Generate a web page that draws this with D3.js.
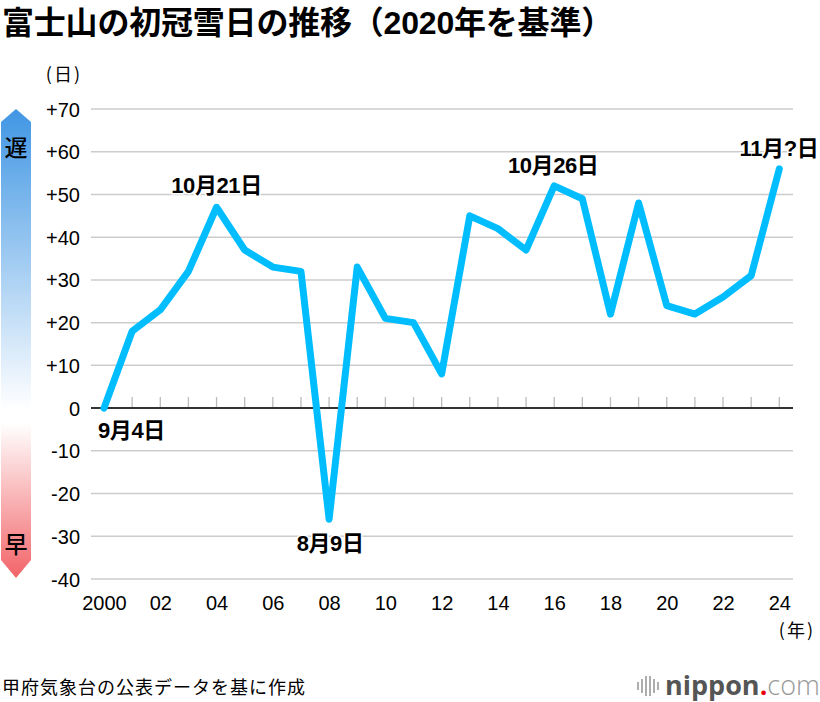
<!DOCTYPE html>
<html><head><meta charset="utf-8">
<script src="https://cdn.jsdelivr.net/npm/d3@7"></script>
<style>
body{margin:0;background:#fff;}
svg{display:block;}
</style></head>
<body>
<script>
const years = [2000,2001,2002,2003,2004,2005,2006,2007,2008,2009,2010,2011,2012,2013,2014,2015,2016,2017,2018,2019,2020,2021,2022,2023,2024];
const values = [0,18,23,32,47,37,33,32,-26,33,21,20,8,45,42,37,52,49,22,48,24,22,26,31,56];
const yTicks = [70,60,50,40,30,20,10,0,-10,-20,-30,-40];
const xTickYears = [2000,2002,2004,2006,2008,2010,2012,2014,2016,2018,2020,2022,2024];
const xTickLabels = ["2000","02","04","06","08","10","12","14","16","18","20","22","24"];
const annotations = [
  {year:2000, value:0, text:"9月4日", anchor:"start", dx:-6, dy:30},
  {year:2004, value:47, text:"10月21日", anchor:"middle", dx:0, dy:-14},
  {year:2008, value:-26, text:"8月9日", anchor:"middle", dx:1, dy:32},
  {year:2016, value:52, text:"10月26日", anchor:"middle", dx:-1, dy:-13},
  {year:2024, value:56, text:"11月?日", anchor:"end", dx:39, dy:-13}
];

const W=820,H=702;
const svg=d3.select("body").append("svg").attr("width",W).attr("height",H);
const x=d3.scaleLinear().domain([2000,2024]).range([104,779.3]);
const y=d3.scaleLinear().domain([-40,70]).range([579,109]);
const numFont='"Liberation Sans", Arial, "Noto Sans CJK JP", sans-serif';
const jpFont='"Noto Sans CJK JP", sans-serif';

// title
svg.append("text").attr("x",2).attr("y",34)
  .attr("font-family",'"Liberation Sans","Noto Sans CJK JP",sans-serif').attr("font-weight","bold")
  .attr("font-size",32).attr("fill","#000").attr("letter-spacing",-0.2)
  .text("富士山の初冠雪日の推移（2020年を基準）");

// gradient arrow
const defs=svg.append("defs");
const g=defs.append("linearGradient").attr("id","arr").attr("gradientUnits","userSpaceOnUse")
  .attr("x1",0).attr("x2",0).attr("y1",109).attr("y2",578);
g.append("stop").attr("offset",0).attr("stop-color","#4096e4");
g.append("stop").attr("offset",0.64).attr("stop-color","#ffffff");
g.append("stop").attr("offset",0.67).attr("stop-color","#ffffff");
g.append("stop").attr("offset",1).attr("stop-color","#f26468");
svg.append("path").attr("d","M1,122 L16,109 L31,122 L31,560 L16,578 L1,560 Z").attr("fill","url(#arr)");
svg.append("text").attr("x",16).attr("y",156).attr("text-anchor","middle")
  .attr("font-family",jpFont).attr("font-weight",500).attr("font-size",23).attr("fill","#000").text("遅");
svg.append("text").attr("x",16).attr("y",553).attr("text-anchor","middle")
  .attr("font-family",jpFont).attr("font-weight",500).attr("font-size",23).attr("fill","#000").text("早");

// unit labels
svg.append("text").attr("x",82).attr("y",81).attr("text-anchor","end")
  .attr("font-family",jpFont).attr("font-size",18).attr("letter-spacing",2).attr("fill","#000").text("(日)");
svg.append("text").attr("x",815).attr("y",637).attr("text-anchor","end")
  .attr("font-family",jpFont).attr("font-size",18).attr("letter-spacing",2).attr("fill","#000").text("(年)");

// gridlines
svg.append("g").selectAll("line").data(yTicks.filter(d=>d!==0)).join("line")
  .attr("x1",91).attr("x2",793).attr("y1",d=>y(d)).attr("y2",d=>y(d))
  .attr("stroke","#cccccc").attr("stroke-width",1.5);

// y axis labels
const yAxis=d3.axisLeft(y).tickValues(yTicks).tickSize(0).tickPadding(0)
  .tickFormat(d=>d>0?"+"+d:String(d));
const ya=svg.append("g").attr("transform","translate(80,0)").call(yAxis);
ya.select(".domain").remove();
ya.selectAll("text").attr("font-family",numFont).attr("font-size",20).attr("fill","#000").attr("dy","0.35em");

// x axis labels
const xAxis=d3.axisBottom(x).tickValues(xTickYears).tickSize(0).tickPadding(0)
  .tickFormat((d,i)=>xTickLabels[i]);
const xa=svg.append("g").attr("transform","translate(0,596)").call(xAxis);
xa.select(".domain").remove();
xa.selectAll("text").attr("font-family",numFont).attr("font-size",20).attr("fill","#000");

// zero-line ticks
svg.append("g").selectAll("line").data(years.slice(1)).join("line")
  .attr("x1",d=>x(d)).attr("x2",d=>x(d)).attr("y1",y(0)-11).attr("y2",y(0))
  .attr("stroke","#bbbbbb").attr("stroke-width",1.3);
// zero line
svg.append("line").attr("x1",91).attr("x2",793).attr("y1",y(0)).attr("y2",y(0))
  .attr("stroke","#333333").attr("stroke-width",2);

// line
const line=d3.line().x((d,i)=>x(years[i])).y(d=>y(d));
svg.append("path").datum(values).attr("d",line).attr("fill","none")
  .attr("stroke","#00bdff").attr("stroke-width",7)
  .attr("stroke-linejoin","round").attr("stroke-linecap","round");

// annotations
svg.append("g").selectAll("text").data(annotations).join("text")
  .attr("x",d=>x(d.year)+d.dx).attr("y",d=>y(d.value)+d.dy)
  .attr("text-anchor",d=>d.anchor)
  .attr("font-family",numFont).attr("font-weight","bold").attr("font-size",22)
  .attr("fill","#000").attr("letter-spacing",-0.4)
  .style("paint-order","stroke").attr("stroke","#fff").attr("stroke-width",3)
  .text(d=>d.text);

// footer
svg.append("text").attr("x",2).attr("y",694).attr("font-family",jpFont)
  .attr("font-size",18).attr("fill","#000").attr("letter-spacing",1)
  .text("甲府気象台の公表データを基に作成");

// logo
const logo=svg.append("g");
const bars=[[638,4],[642,7],[646,10],[650,10],[654,7],[658,4]];
logo.selectAll("line").data(bars).join("line")
  .attr("x1",d=>d[0]).attr("x2",d=>d[0]).attr("y1",d=>686-d[1]).attr("y2",d=>686+d[1])
  .attr("stroke","#999").attr("stroke-width",1.6);
const lt=logo.append("text").attr("x",665).attr("y",695).attr("font-family",'"Open Sans","Noto Sans",sans-serif').attr("font-size",27);
lt.append("tspan").attr("font-weight","bold").attr("fill","#555").text("nippon");
lt.append("tspan").attr("font-weight","bold").attr("fill","#e60012").text(".");
lt.append("tspan").attr("font-weight","300").attr("fill","#999").text("com");
</script>
</body></html>
